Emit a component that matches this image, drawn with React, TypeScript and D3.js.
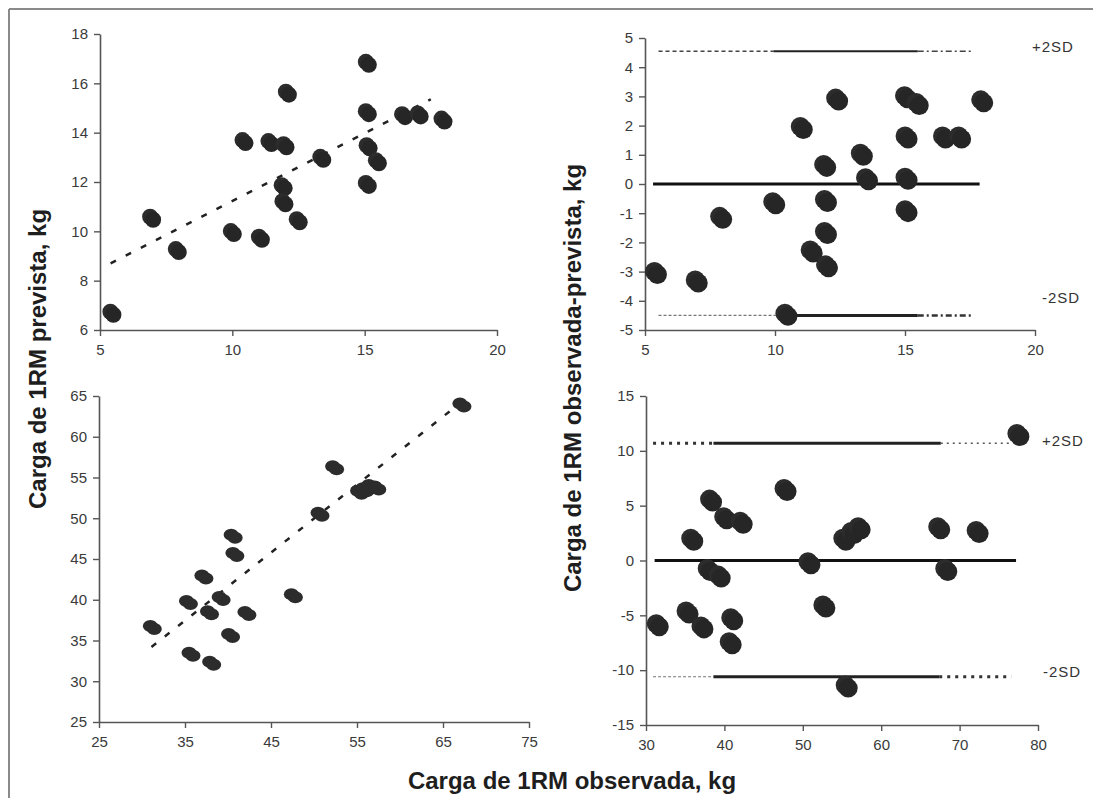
import { useEffect, useRef } from "react";
import * as d3 from "d3";

// top-left: observed vs predicted 1RM (small loads)
const obsA = [5.45, 6.95, 7.92, 10.0, 10.44, 11.06, 11.42, 11.99, 12.08, 11.92, 11.95, 12.49, 13.38, 15.1, 15.1, 15.13, 15.48, 15.1, 16.47, 17.06, 17.96];
const predA = [6.68, 10.53, 9.22, 9.95, 13.64, 9.72, 13.6, 13.47, 15.6, 11.81, 11.16, 10.43, 12.96, 16.81, 14.81, 13.43, 12.82, 11.9, 14.69, 14.72, 14.51];
const trendA = { a: 5.73, b: 0.55, from: 5.4, to: 17.5 };

// top-right: bland-altman (small loads)
const baXA = [5.42, 6.99, 7.93, 9.97, 10.44, 11.03, 11.41, 12.39, 11.93, 11.96, 11.96, 12.0, 13.34, 13.54, 15.04, 15.49, 15.06, 15.06, 15.06, 16.5, 17.12, 17.97];
const baYA = [-3.05, -3.34, -1.16, -0.66, -4.48, 1.92, -2.31, 2.89, 0.62, -0.58, -1.68, -2.82, 1.0, 0.16, 2.97, 2.74, 1.59, 0.18, -0.93, 1.59, 1.59, 2.83];
const limitsA = { upper: 4.55, lower: -4.5, meanFrom: 5.31, meanTo: 17.87 };
const upperSegA = [[5.52, 9.94, "dash"], [9.94, 15.49, "solid"], [15.49, 17.53, "dashdot"]];
const lowerSegA = [[5.52, 10.4, "dashthin"], [10.4, 15.49, "solidthick"], [15.49, 17.53, "dashdotthick"]];

// bottom-left: observed vs predicted 1RM (large loads)
const obsB = [31.2, 35.4, 35.7, 37.2, 37.85, 38.1, 39.2, 40.3, 40.6, 40.8, 42.2, 47.6, 50.7, 52.4, 55.3, 55.9, 56.6, 57.3, 67.2];
const predB = [36.6, 39.65, 33.3, 42.8, 38.4, 32.2, 40.15, 35.6, 47.8, 45.55, 38.3, 40.5, 50.5, 56.2, 53.2, 53.5, 53.9, 53.7, 63.9];
const trendB = { a: 8.26, b: 0.834, from: 31.1, to: 65.8 };

// bottom-right: bland-altman (large loads)
const baXB = [31.5, 35.3, 35.9, 37.2, 38.3, 38.0, 39.4, 40.1, 41.0, 40.8, 42.2, 47.8, 50.85, 52.75, 55.6, 55.3, 56.35, 57.25, 67.4, 68.3, 72.3, 77.5];
const baYB = [-5.9, -4.75, 1.9, -6.1, 5.46, -0.86, -1.47, 3.85, -5.36, -7.55, 3.45, 6.43, -0.25, -4.2, -11.5, 1.9, 2.5, 2.94, 2.94, -0.86, 2.6, 11.45];
const limitsB = { upper: 10.7, lower: -10.6, meanFrom: 31.1, meanTo: 77.2 };
const upperSegB = [[30.9, 38.6, "dotthick"], [38.6, 67.6, "solidthick"], [67.6, 76.4, "dotthin"]];
const lowerSegB = [[30.9, 38.6, "dashthin"], [38.6, 67.4, "solidthick"], [67.4, 76.6, "dotthick"]];

const ticksXA = [5, 10, 15, 20];
const ticksYA = [6, 8, 10, 12, 14, 16, 18];
const ticksYBA = [5, 4, 3, 2, 1, 0, -1, -2, -3, -4, -5];
const ticksXB = [25, 35, 45, 55, 65, 75];
const ticksYB = [25, 30, 35, 40, 45, 50, 55, 60, 65];
const ticksXBB = [30, 40, 50, 60, 70, 80];
const ticksYBB = [15, 10, 5, 0, -5, -10, -15];

const yTitle = "Carga de 1RM prevista, kg";
const yTitleBA = "Carga de 1RM observada-prevista, kg";
const xTitle = "Carga de 1RM observada, kg";

const FONT = "'Liberation Sans', Arial, sans-serif";
const INK = "#2c2c2c";

const segStyle = {
  dash: { dash: "4,3", w: 1.5, c: "#444" },
  dashthin: { dash: "3,2", w: 1.2, c: "#777" },
  solid: { dash: null, w: 2, c: "#222" },
  solidthick: { dash: null, w: 3, c: "#222" },
  dashdot: { dash: "6,3,2,3", w: 1.5, c: "#444" },
  dashdotthick: { dash: "6,3,2,3", w: 2.5, c: "#333" },
  dotthick: { dash: "3,5", w: 3, c: "#333" },
  dotthin: { dash: "2,4", w: 1.5, c: "#555" },
};

const App = () => {
  const svgRef = useRef(null);

  useEffect(() => {
    const svg = d3.select(svgRef.current);
    svg.selectAll("*").remove();

    // frame lines (top and left)
    svg.append("line").attr("x1", 9).attr("x2", 1093).attr("y1", 9).attr("y2", 9)
      .attr("stroke", "#8a8a8a").attr("stroke-width", 2);
    svg.append("line").attr("x1", 9).attr("x2", 9).attr("y1", 9).attr("y2", 798)
      .attr("stroke", "#8a8a8a").attr("stroke-width", 2);

    const drawAxes = (x, y, xt, yt) => {
      const gx = svg.append("g")
        .attr("transform", `translate(0, ${y.range()[0]})`)
        .call(d3.axisBottom(x).tickValues(xt).tickSize(6).tickSizeOuter(0).tickPadding(8).tickFormat((d) => String(d)));
      const gy = svg.append("g")
        .attr("transform", `translate(${x.range()[0]}, 0)`)
        .call(d3.axisLeft(y).tickValues(yt).tickSize(6).tickSizeOuter(0).tickPadding(6).tickFormat((d) => String(d)));
      [gx, gy].forEach((g) => {
        g.select(".domain").attr("stroke", "#555").attr("stroke-width", 1.6);
        g.selectAll(".tick line").attr("stroke", "#555").attr("stroke-width", 1.4);
        g.selectAll(".tick text")
          .attr("fill", "#3a3a3a")
          .style("font-family", FONT)
          .style("font-size", "15px");
      });
    };

    const trend = (x, y, t) => {
      const line = d3.line().x((d) => x(d)).y((d) => y(t.a + t.b * d));
      svg.append("path")
        .datum([t.from, t.to])
        .attr("d", line)
        .attr("fill", "none")
        .attr("stroke", "#222")
        .attr("stroke-width", 2.5)
        .attr("stroke-dasharray", "6,11");
    };

    const limits = (x, y, lim, up, low) => {
      [[up, lim.upper], [low, lim.lower]].forEach(([segs, v]) => {
        segs.forEach(([a, b, kind]) => {
          const s = segStyle[kind];
          svg.append("line")
            .attr("x1", x(a)).attr("x2", x(b))
            .attr("y1", y(v)).attr("y2", y(v))
            .attr("stroke", s.c)
            .attr("stroke-width", s.w)
            .attr("stroke-dasharray", s.dash);
        });
      });
      svg.append("line")
        .attr("x1", x(lim.meanFrom)).attr("x2", x(lim.meanTo))
        .attr("y1", y(0)).attr("y2", y(0))
        .attr("stroke", "#111").attr("stroke-width", 3.2);
    };

    const dots = (x, y, xs, ys, kind) => {
      const g = svg.append("g");
      xs.forEach((d, i) => {
        const cx = x(d), cy = y(ys[i]);
        if (kind === "ellipse") {
          g.append("ellipse").attr("cx", cx - 2).attr("cy", cy - 1.5).attr("rx", 7.5).attr("ry", 6).attr("fill", INK);
          g.append("ellipse").attr("cx", cx + 2).attr("cy", cy + 1.5).attr("rx", 7.5).attr("ry", 6).attr("fill", INK);
        } else {
          const r = kind === "big" ? 9.5 : 8;
          g.append("circle").attr("cx", cx - 1.5).attr("cy", cy - 1.5).attr("r", r).attr("fill", INK);
          g.append("circle").attr("cx", cx + 1.5).attr("cy", cy + 1.5).attr("r", r).attr("fill", "#262626");
        }
      });
    };

    const sdLabel = (tx, ty, text) => {
      svg.append("text")
        .attr("x", tx).attr("y", ty)
        .attr("fill", "#333")
        .style("font-family", FONT)
        .style("font-size", "15px")
        .style("letter-spacing", "1px")
        .text(text);
    };

    // top-left
    const xA = d3.scaleLinear().domain([5, 20]).range([100, 497]);
    const yA = d3.scaleLinear().domain([6, 18]).range([330, 34]);
    drawAxes(xA, yA, ticksXA, ticksYA);
    trend(xA, yA, trendA);
    dots(xA, yA, obsA, predA, "small");

    // top-right
    const xBA = d3.scaleLinear().domain([5, 20]).range([645, 1035]);
    const yBA = d3.scaleLinear().domain([-5, 5]).range([330, 38]);
    drawAxes(xBA, yBA, ticksXA, ticksYBA);
    limits(xBA, yBA, limitsA, upperSegA, lowerSegA);
    dots(xBA, yBA, baXA, baYA, "big");
    sdLabel(1032, 52, "+2SD");
    sdLabel(1042, 303, "-2SD");

    // bottom-left
    const xB = d3.scaleLinear().domain([25, 75]).range([99, 529]);
    const yB = d3.scaleLinear().domain([25, 65]).range([722, 396]);
    drawAxes(xB, yB, ticksXB, ticksYB);
    trend(xB, yB, trendB);
    dots(xB, yB, obsB, predB, "ellipse");

    // bottom-right
    const xBB = d3.scaleLinear().domain([30, 80]).range([646, 1038]);
    const yBB = d3.scaleLinear().domain([-15, 15]).range([725, 396]);
    drawAxes(xBB, yBB, ticksXBB, ticksYBB);
    limits(xBB, yBB, limitsB, upperSegB, lowerSegB);
    dots(xBB, yBB, baXB, baYB, "big");
    sdLabel(1042, 446, "+2SD");
    sdLabel(1043, 677, "-2SD");

    // axis titles
    const title = (tx, ty, rot, text) => {
      svg.append("text")
        .attr("transform", `translate(${tx}, ${ty}) rotate(${rot})`)
        .attr("text-anchor", "middle")
        .attr("dominant-baseline", rot ? "central" : "auto")
        .attr("fill", "#1e1e1e")
        .style("font-family", FONT)
        .style("font-size", "24px")
        .style("font-weight", "bold")
        .text(text);
    };
    title(37, 359, -90, yTitle);
    title(572, 378, -90, yTitleBA);
    title(572, 789, 0, xTitle);
  }, []);

  return (
    <div style={{ position: "absolute", left: 0, top: 0, background: "#fff" }}>
      <svg ref={svgRef} width={1094} height={798} viewBox="0 0 1094 798"></svg>
    </div>
  );
};

export default App;
